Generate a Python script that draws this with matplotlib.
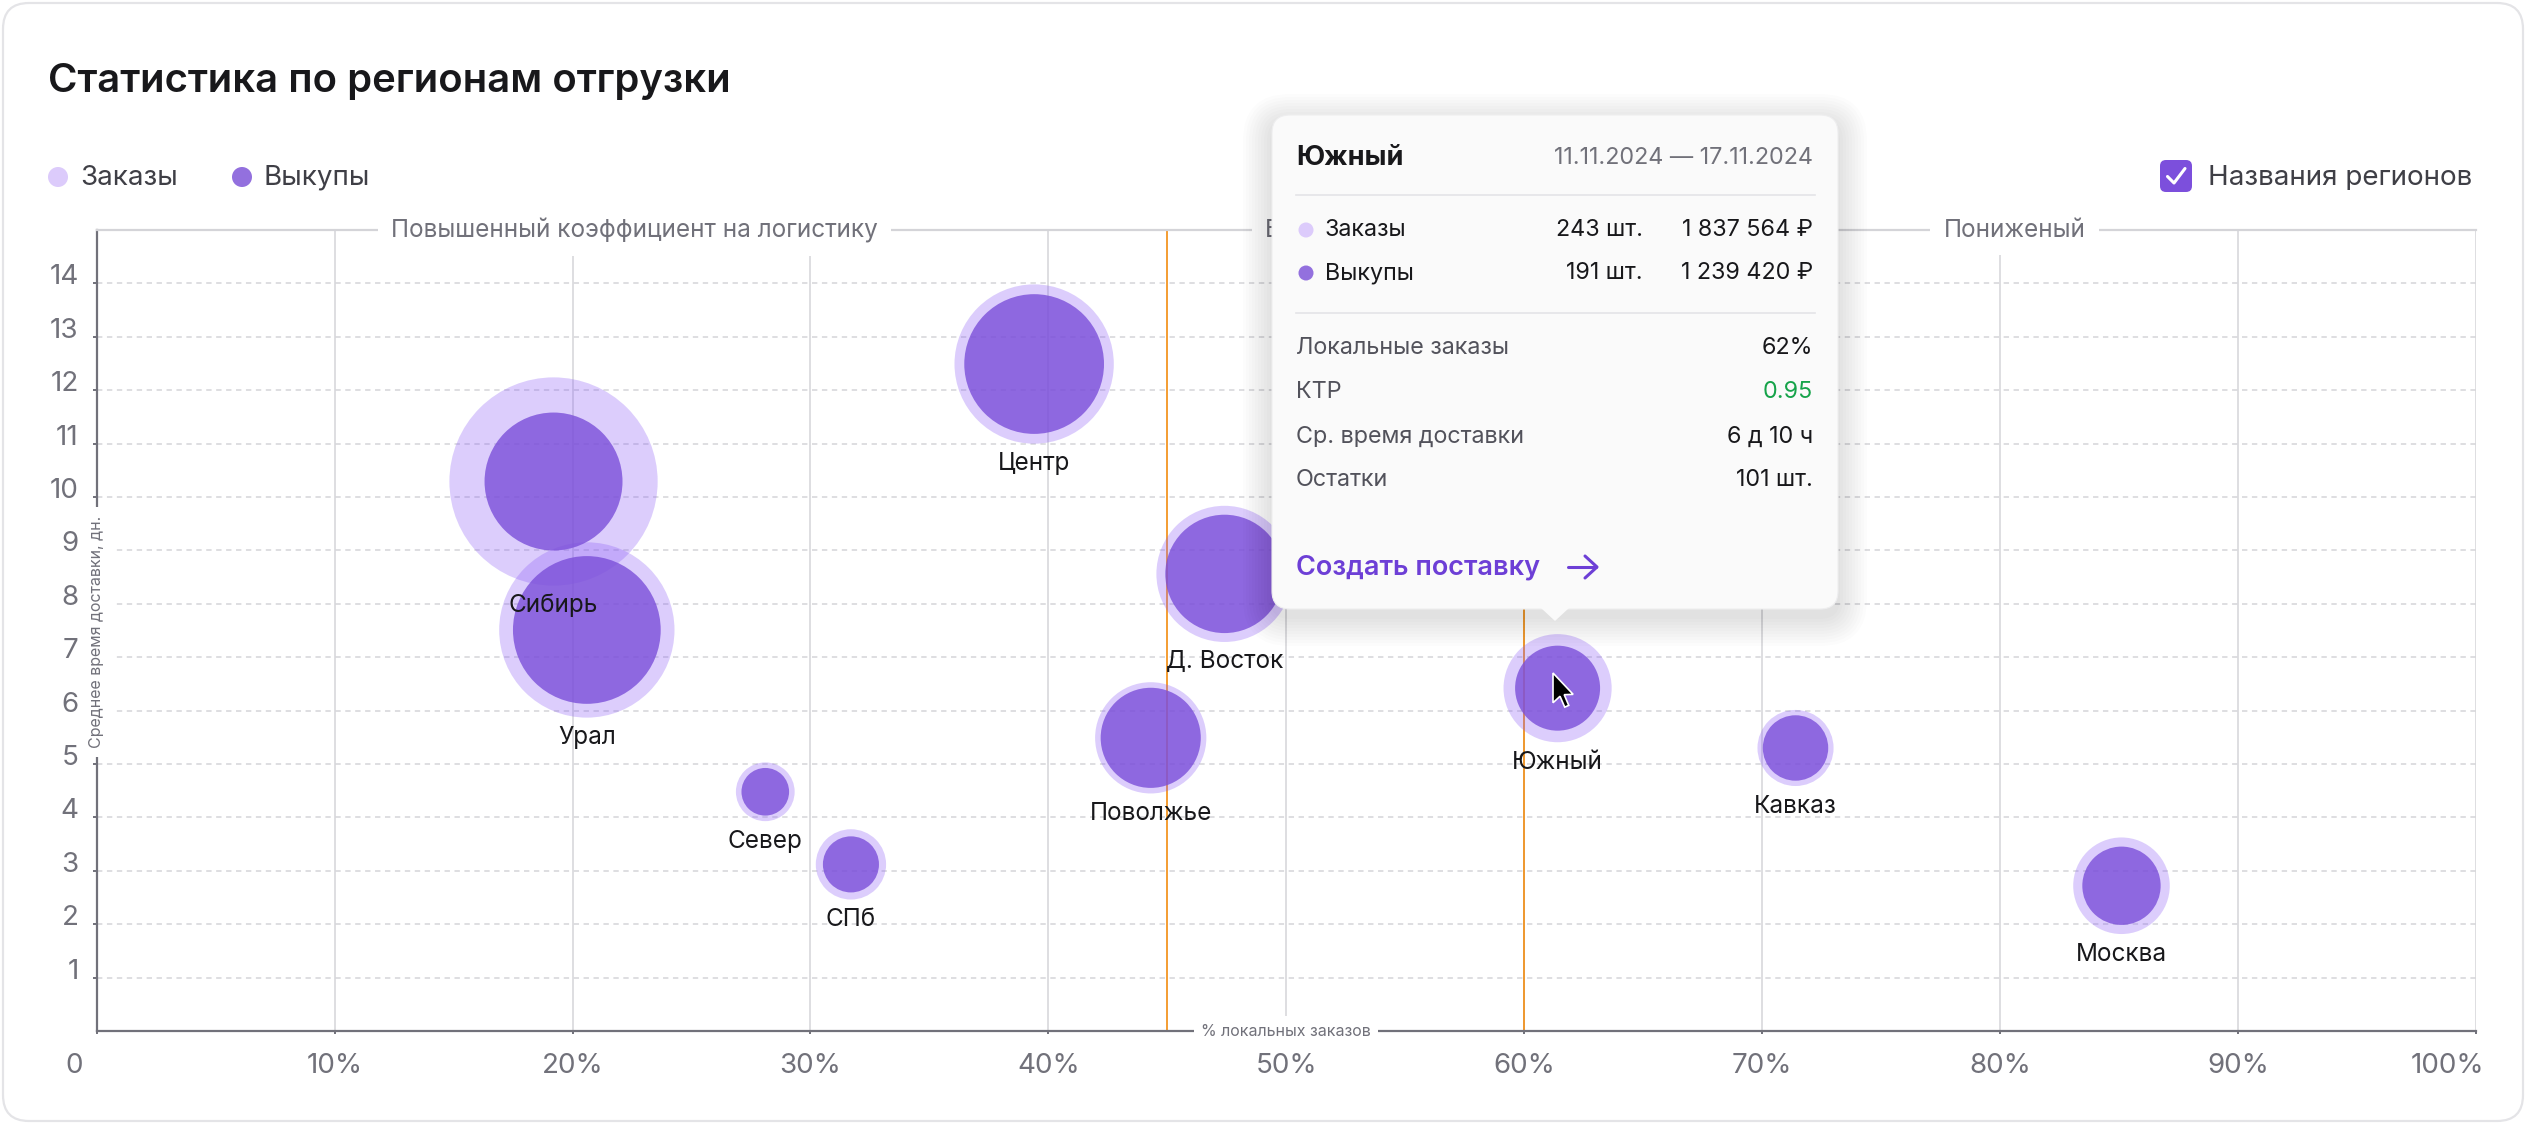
import matplotlib
matplotlib.use("Agg")
import matplotlib.pyplot as plt
from matplotlib.patches import FancyBboxPatch, Circle, Polygon
from matplotlib.lines import Line2D
from matplotlib.transforms import Affine2D, ScaledTranslation

plt.rcParams['font.family'] = ['Inter', 'DejaVu Sans']

# ---------------- data ----------------
regions = ["Сибирь", "Урал", "Центр", "Д. Восток", "Поволжье", "Север", "СПб", "Южный", "Кавказ", "Москва"]
local_pct = [19.2, 20.6, 39.4, 47.4, 44.3, 28.1, 31.7, 61.4, 71.4, 85.1]
delivery_days = [10.29, 7.51, 12.49, 8.56, 5.49, 4.48, 3.12, 6.42, 5.30, 2.72]
orders = [468, 394, 358, 306, 250, 132, 158, 243, 171, 217]
buyouts = [310, 332, 314, 266, 225, 107, 126, 191, 147, 176]

x_ticks = [0, 10, 20, 30, 40, 50, 60, 70, 80, 90, 100]
x_tick_labels = ["0", "10%", "20%", "30%", "40%", "50%", "60%", "70%", "80%", "90%", "100%"]
y_ticks = list(range(1, 15))
y_tick_labels = [str(v) for v in y_ticks]

zone_bounds = [0, 45, 60, 100]
zone_labels = ["Повышенный коэффициент на логистику", "Базовый", "Пониженый"]

tooltip_region = "Южный"
tooltip_period = "11.11.2024 — 17.11.2024"
tooltip_series = ["Заказы", "Выкупы"]
tooltip_counts = ["243 шт.", "191 шт."]
tooltip_sums = ["1 837 564 ₽", "1 239 420 ₽"]
tooltip_metrics = ["Локальные заказы", "КТР", "Ср. время доставки", "Остатки"]
tooltip_metric_values = ["62%", "0.95", "6 д 10 ч", "101 шт."]

# ---------------- styles ----------------
W, H, DPI = 2526, 1124, 100
C_ORDERS = (0.545, 0.361, 0.965, 0.30)
C_BUY = (0.482, 0.310, 0.851, 0.80)
C_DOT_ORD = "#dccbfb"
C_DOT_BUY = "#9370de"
C_GRID = "#d4d4d8"
C_AXIS = "#71717a"
C_TEXT = "#18181b"
C_ORANGE = "#f28c0f"
R_SCALE = 0.2225  # px per unit of count

fig = plt.figure(figsize=(W / DPI, H / DPI), dpi=DPI)
fig.patch.set_facecolor("white")
pix = Affine2D().scale(1 / DPI).scale(1, -1).translate(0, H / DPI) + fig.dpi_scale_trans

# card
fig.add_artist(FancyBboxPatch((3, 3), W - 6, H - 6, boxstyle="round,pad=0,rounding_size=26",
                              transform=pix, facecolor="white", edgecolor="#e4e4e7", lw=1.6, zorder=-5))

# ---------------- axes ----------------
x0, x1, y0, y1 = 96.7, 2476, 1031, 230
ax = fig.add_axes([x0 / W, 1 - y0 / H, (x1 - x0) / W, (y0 - y1) / H])
ax.set_facecolor("none")
ax.set_xlim(0, 100)
ax.set_ylim(0, 15)
ax.set_axisbelow(True)

ax.spines["right"].set_visible(False)
ax.spines["top"].set_color(C_GRID)
ax.spines["top"].set_linewidth(1.6)
for s in ["left", "bottom"]:
    ax.spines[s].set_color(C_AXIS)
    ax.spines[s].set_linewidth(1.6)

ax.set_xticks(x_ticks)
ax.set_xticklabels(x_tick_labels)
ax.set_yticks(y_ticks)
ax.set_yticklabels(y_tick_labels)
ax.tick_params(axis="both", colors=C_AXIS, labelcolor=C_AXIS, labelsize=20, width=1.4)
ax.tick_params(axis="y", length=3, pad=10)
ax.tick_params(axis="x", length=2.5, pad=13.5)
for lab in ax.get_yticklabels():
    lab.set_transform(lab.get_transform() + ScaledTranslation(0, 0.09, fig.dpi_scale_trans))
xl = ax.get_xticklabels()
xl[0].set_transform(xl[0].get_transform() + ScaledTranslation(-0.227, 0, fig.dpi_scale_trans))
xl[-1].set_transform(xl[-1].get_transform() + ScaledTranslation(-0.28, 0, fig.dpi_scale_trans))

ax.xaxis.grid(True, color=C_GRID, lw=1.1)
ax.yaxis.grid(True, color=C_GRID, lw=1.1, linestyle=(0, (3.5, 3)))

for b in zone_bounds[1:3]:
    ax.axvline(b, color=C_ORANGE, lw=1.2, zorder=1.5)

# zone labels on top border
zone_x = [(zone_bounds[0] + zone_bounds[1]) / 2 + 0.1, zone_bounds[1] + 4.1,
          (zone_bounds[2] + zone_bounds[3]) / 2 + 0.6]
zone_ha = ["center", "left", "center"]
for xc, lab, ha in zip(zone_x, zone_labels, zone_ha):
    ax.text(xc, 15, lab, ha=ha, va="center", fontsize=17.5, color=C_AXIS,
            bbox=dict(boxstyle="square,pad=0.55", fc="white", ec="none"), clip_on=False, zorder=4)

# axis titles sitting on spines
ax.text(0, 7.47, "Среднее время доставки, дн.", rotation=90, ha="center", va="center",
        fontsize=11.5, color=C_AXIS, bbox=dict(boxstyle="square,pad=0.55", fc="white", ec="none"),
        clip_on=False, zorder=4)
ax.text(50, 0, "% локальных заказов", ha="center", va="center", fontsize=11.5, color=C_AXIS,
        bbox=dict(boxstyle="square,pad=0.45", fc="white", ec="none"), clip_on=False, zorder=4)

# bubbles
def area(count):
    d_pt = 2 * R_SCALE * count * 72 / DPI
    return d_pt ** 2

ax.scatter(local_pct, delivery_days, s=[area(c) for c in orders], color=C_ORDERS, lw=0, zorder=2)
ax.scatter(local_pct, delivery_days, s=[area(c) for c in buyouts], color=C_BUY, lw=0, zorder=2.1)

for name, xv, yv, o in zip(regions, local_pct, delivery_days, orders):
    ax.annotate(name, (xv, yv), xytext=(0, -(R_SCALE * o + 20)), textcoords="offset pixels",
                ha="center", va="center", fontsize=17.5, color=C_TEXT, zorder=3)

# ---------------- header ----------------
fig.text(48, 81, "Статистика по регионам отгрузки", transform=pix, ha="left", va="center",
         fontsize=28.8, fontweight="semibold", color=C_TEXT)
fig.add_artist(Circle((58, 177), 10, transform=pix, fc=C_DOT_ORD, ec="none"))
fig.text(80, 178, "Заказы", transform=pix, ha="left", va="center", fontsize=20, color="#3f3f46")
fig.add_artist(Circle((242, 177), 10, transform=pix, fc=C_DOT_BUY, ec="none"))
fig.text(263, 178, "Выкупы", transform=pix, ha="left", va="center", fontsize=20, color="#3f3f46")

fig.add_artist(FancyBboxPatch((2160, 160), 32, 32, boxstyle="round,pad=0,rounding_size=6",
                              transform=pix, fc="#7c4fdc", ec="none"))
fig.add_artist(Line2D([2167.5, 2174, 2185], [176.5, 183, 168.5], transform=pix, color="white",
                      lw=2.2, solid_capstyle="round", solid_joinstyle="round"))
fig.text(2208, 178, "Названия регионов", transform=pix, ha="left", va="center", fontsize=20,
         color="#3f3f46")

# ---------------- tooltip ----------------
tx0, ty0, tx1, ty1 = 1272, 115, 1838, 609
for i in range(10):
    g = 2 + i * 3
    fig.add_artist(FancyBboxPatch((tx0 - g, ty0 - g + 8), tx1 - tx0 + 2 * g, ty1 - ty0 + 2 * g,
                                  boxstyle="round,pad=0,rounding_size=%d" % (18 + g),
                                  transform=pix, fc="black", ec="none", alpha=0.010, zorder=5))
fig.add_artist(FancyBboxPatch((tx0, ty0), tx1 - tx0, ty1 - ty0, boxstyle="round,pad=0,rounding_size=18",
                              transform=pix, fc="#fafafa", ec="#eeeeef", lw=0.8, zorder=6))
fig.add_artist(Polygon([[1541, 608], [1569, 608], [1555, 621]], closed=True, transform=pix,
                       fc="#fafafa", ec="none", zorder=6))

TZ = 7
fig.text(1296, 158, tooltip_region, transform=pix, ha="left", va="center", fontsize=19.5,
         fontweight="bold", color=C_TEXT, zorder=TZ)
fig.text(1813, 158, tooltip_period, transform=pix, ha="right", va="center", fontsize=16.8,
         color=C_AXIS, zorder=TZ)
for yy in (195, 313):
    fig.add_artist(Line2D([1296, 1815], [yy, yy], transform=pix, color="#e4e4e7", lw=1.2, zorder=TZ))

row_y = [230, 273]
dot_cols = [C_DOT_ORD, C_DOT_BUY]
for yy, name, cnt, sm, dc in zip(row_y, tooltip_series, tooltip_counts, tooltip_sums, dot_cols):
    fig.add_artist(Circle((1306, yy), 7.5, transform=pix, fc=dc, ec="none", zorder=TZ))
    fig.text(1325, yy, name, transform=pix, ha="left", va="center", fontsize=16.8, color=C_TEXT, zorder=TZ)
    fig.text(1643, yy, cnt, transform=pix, ha="right", va="center", fontsize=16.8, color=C_TEXT, zorder=TZ)
    fig.text(1813, yy, sm, transform=pix, ha="right", va="center", fontsize=16.8, color=C_TEXT, zorder=TZ)

metric_y = [348, 392, 437, 480]
for yy, name, val in zip(metric_y, tooltip_metrics, tooltip_metric_values):
    fig.text(1296, yy, name, transform=pix, ha="left", va="center", fontsize=16.8, color="#52525b", zorder=TZ)
    col = "#16a34a" if name == "КТР" else C_TEXT
    fig.text(1813, yy, val, transform=pix, ha="right", va="center", fontsize=16.8, color=col, zorder=TZ)

fig.text(1296, 567, "Создать поставку", transform=pix, ha="left", va="center", fontsize=19.5,
         fontweight="semibold", color="#6d3fd6", zorder=TZ)
fig.add_artist(Line2D([1568, 1596], [567, 567], transform=pix, color="#6d3fd6", lw=2.2,
                      solid_capstyle="round", zorder=TZ))
fig.add_artist(Line2D([1585, 1597, 1585], [556, 567, 578], transform=pix, color="#6d3fd6", lw=2.2,
                      solid_capstyle="round", solid_joinstyle="round", zorder=TZ))

# mouse cursor
cur = [(0, 0), (0, 17), (4, 13.3), (6.7, 19.5), (9, 18.5), (6.4, 12.4), (11.5, 12.2)]
k = 1.75
fig.add_artist(Polygon([[1553 + k * a, 673 + k * b] for a, b in cur], closed=True, transform=pix,
                       fc="black", ec="white", lw=1.2, zorder=8))

fig.savefig("out.png", dpi=DPI)
